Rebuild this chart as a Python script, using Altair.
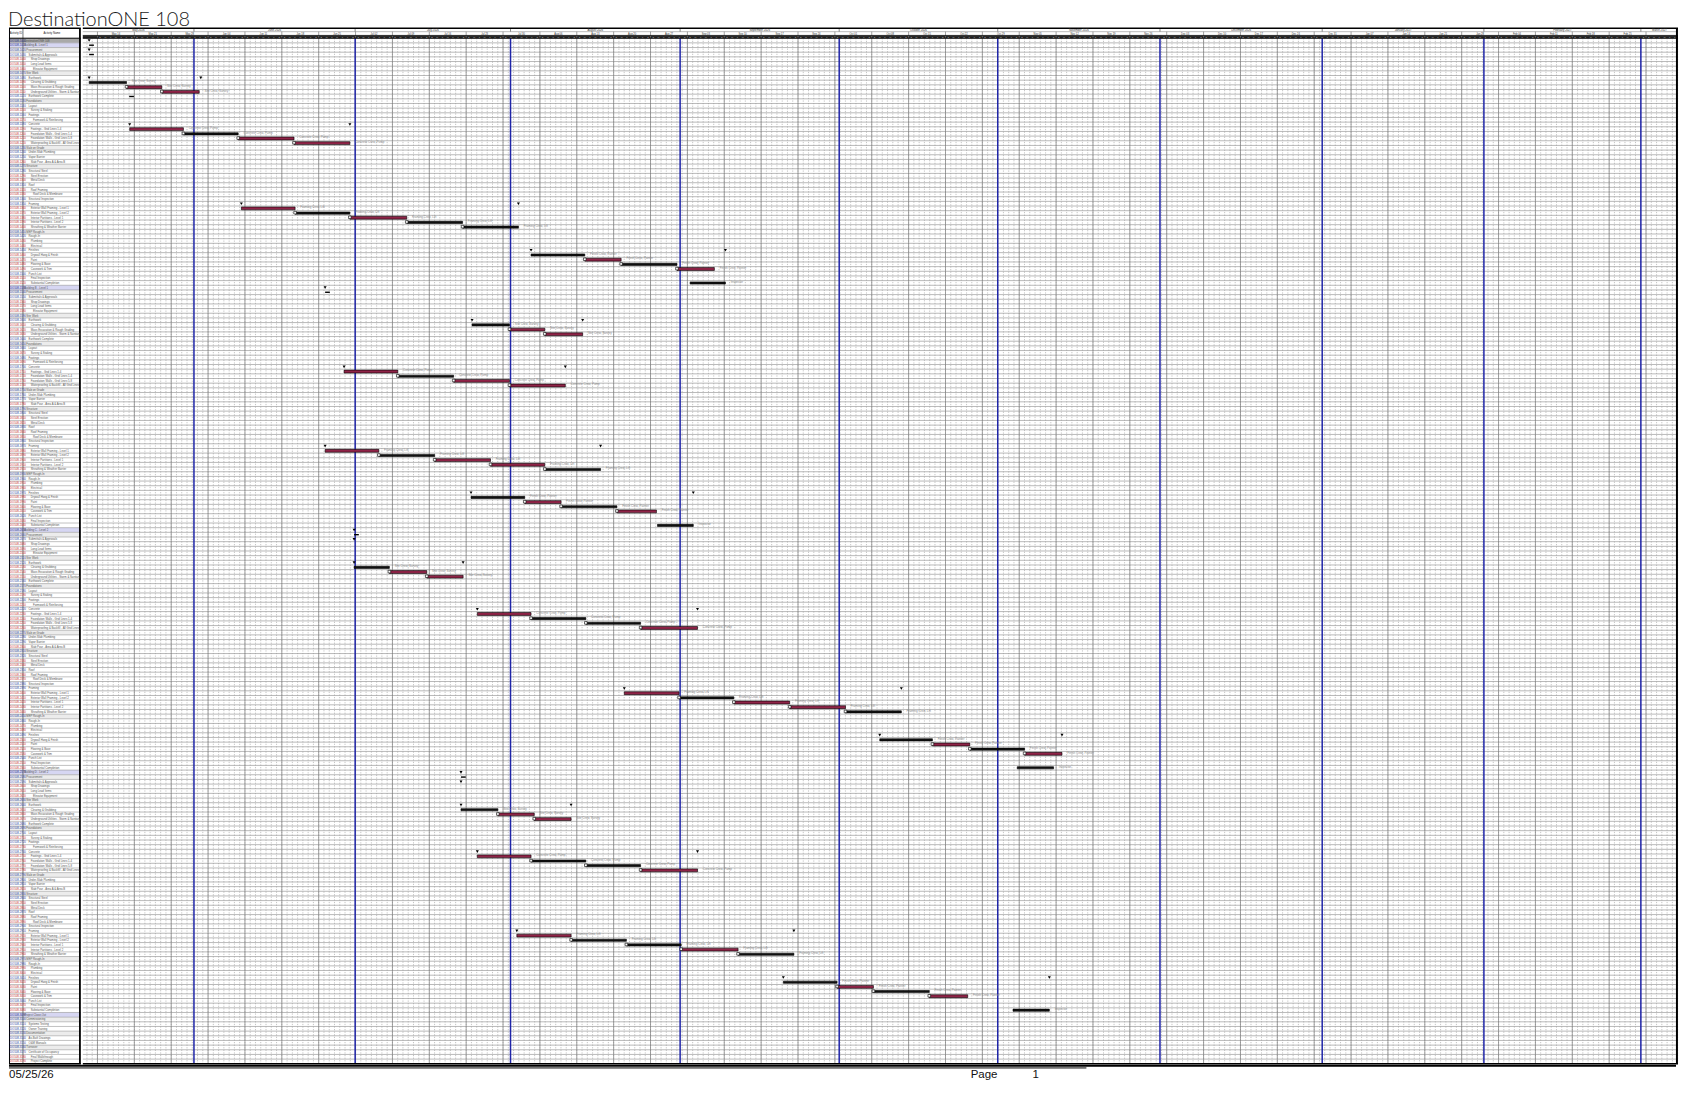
import altair as alt
import pandas as pd

alt.data_transformers.disable_max_rows()

# ---------------- text ----------------
TITLE = "DestinationONE 108"
PRINT_DATE = "05/25/26"
PAGE_WORD = "Page"
PAGE_NUM = "1"
TABLE_HEADERS = ["Activity ID", "Activity Name"]

# ---------------- layout constants ----------------
N_ROWS = 220
N_DAYS = 302.85
HDR_TOP, HDR_T1, HDR_T2 = -2.14, -1.40, -0.60
TABLE_W, COL1_W, GANTT_W, PANEL_H = 72, 14, 1599, 1038
FOOT_W, FOOT_H = 1671, 14

# ---------------- task list ----------------
project_name = "DestinationONE 108"
section_names = ["Building A - Level 1", "Building B - Level 1",
                 "Building C - Level 2", "Building D - Level 2"]
template_levels = [0, 1, 2, 3, 3, 4, 1, 2, 3, 3, 3, 2, 1, 2, 3, 2, 4, 2, 3, 3, 3, 3,
                   1, 2, 2, 3, 1, 2, 3, 3, 2, 3, 4, 2, 2, 3, 3, 3, 3, 3, 1, 2, 3, 3,
                   2, 3, 3, 3, 3, 2, 3, 3]
template_names = [
    None, "Procurement", "Submittals & Approvals", "Shop Drawings", "Long Lead Items",
    "Elevator Equipment", "Site Work", "Earthwork", "Clearing & Grubbing",
    "Mass Excavation & Rough Grading", "Underground Utilities - Storm & Sanitary",
    "Earthwork Complete", "Foundations", "Layout", "Survey & Staking", "Footings",
    "Formwork & Reinforcing", "Concrete", "Footings - Grid Lines 1-4",
    "Foundation Walls - Grid Lines 1-4", "Foundation Walls - Grid Lines 5-8",
    "Waterproofing & Backfill - All Grid Lines", "Slab on Grade", "Under-Slab Plumbing",
    "Vapor Barrier", "Slab Pour - Area A & Area B", "Structure", "Structural Steel",
    "Steel Erection", "Metal Deck", "Roof", "Roof Framing", "Roof Deck & Membrane",
    "Structural Inspection", "Framing", "Exterior Wall Framing - Level 1",
    "Exterior Wall Framing - Level 2", "Interior Partitions - Level 1",
    "Interior Partitions - Level 2", "Sheathing & Weather Barrier", "MEP Rough-In",
    "Rough-In", "Plumbing", "Electrical", "Finishes", "Drywall Hang & Finish", "Paint",
    "Flooring & Base", "Casework & Trim", "Punch List", "Final Inspection",
    "Substantial Completion"]
closeout_levels = [0, 1, 2, 2, 1, 2, 2, 1, 2, 3, 3]
closeout_names = ["Project Close-Out", "Commissioning", "Systems Testing", "Owner Training",
                  "Documentation", "As-Built Drawings", "O&M Manuals", "Turnover",
                  "Certificate of Occupancy", "Final Walkthrough", "Project Complete"]

# ---------------- bars (row, start day, end day, kind) ----------------
bar_rows = [9, 10, 11, 19, 20, 21, 22, 36, 37, 38, 39, 40, 46, 47, 48, 49, 52,
            61, 62, 63, 71, 72, 73, 74, 88, 89, 90, 91, 92, 98, 99, 100, 101, 104,
            113, 114, 115, 123, 124, 125, 126, 140, 141, 142, 143, 144, 150, 151, 152, 153, 156,
            165, 166, 167, 175, 176, 177, 178, 192, 193, 194, 195, 196, 202, 203, 204, 205, 208]
bar_start = [1.2, 8.3, 15.0, 8.9, 19.1, 29.5, 40.1, 30.1, 40.3, 50.7, 61.5, 72.1, 85.1, 95.3, 102.2, 112.8, 115.3,
             73.9, 81.0, 87.7, 49.6, 59.8, 70.4, 81.0, 46.0, 56.2, 66.8, 77.4, 87.7, 73.7, 83.9, 90.8, 101.4, 109.1,
             51.5, 58.2, 65.3, 74.9, 85.1, 95.5, 105.9, 102.8, 113.2, 123.6, 134.2, 144.8, 151.3, 161.3, 168.4, 178.8, 177.4,
             71.8, 78.8, 85.7, 74.9, 85.1, 95.5, 105.9, 82.4, 92.7, 103.2, 113.6, 124.4, 133.0, 143.2, 150.1, 160.7, 176.6]
bar_end = [8.3, 15.0, 22.1, 19.1, 29.5, 40.1, 50.7, 40.3, 50.7, 61.5, 72.1, 82.7, 95.3, 102.2, 112.8, 119.9, 122.0,
           81.0, 87.7, 94.9, 59.8, 70.4, 81.0, 91.6, 56.2, 66.8, 77.4, 87.7, 98.3, 83.9, 90.8, 101.4, 108.9, 115.9,
           58.2, 65.3, 72.2, 85.1, 95.5, 105.9, 116.7, 113.2, 123.6, 134.2, 144.8, 155.4, 161.3, 168.4, 178.8, 185.9, 184.3,
           78.8, 85.7, 92.7, 85.1, 95.5, 105.9, 116.7, 92.7, 103.2, 113.6, 124.4, 135.0, 143.2, 150.1, 160.7, 168.0, 183.5]
bar_kind = ["b", "m", "m", "m", "b", "m", "m", "m", "b", "m", "b", "b", "b", "m", "b", "m", "b",
            "b", "m", "m", "m", "b", "m", "m", "m", "b", "m", "m", "b", "b", "m", "b", "m", "b",
            "b", "m", "m", "m", "b", "b", "m", "m", "b", "m", "m", "b", "b", "m", "b", "m", "b",
            "b", "m", "m", "m", "b", "b", "m", "m", "b", "b", "m", "b", "b", "m", "b", "m", "b"]
crew_names = {8: "Site Crew, Survey", 18: "Concrete Crew, Pump", 35: "Framing Crew, Lift",
              45: "Finish Crew, Painter", 51: "Inspector"}

# milestones (triangles) and small dashes
ms_rows = [0, 2, 53, 105, 107, 157, 159, 8, 8, 18, 18, 35, 35, 45, 45,
           60, 60, 70, 70, 87, 87, 97, 97, 112, 112, 122, 122, 139, 139, 149, 149,
           164, 164, 174, 174, 191, 191, 201, 201]
ms_days = [1.2, 1.2, 46.0, 51.5, 51.5, 71.8, 71.8, 1.2, 22.4, 8.9, 50.7, 30.1, 82.7, 85.1, 122.0,
           73.9, 94.9, 49.6, 91.6, 46.0, 98.3, 73.7, 115.9, 51.5, 72.2, 74.9, 116.7, 102.8, 155.4, 151.3, 185.9,
           71.8, 92.7, 74.9, 116.7, 82.4, 135.0, 133.0, 183.5]
dash_rows = [1, 3, 12, 54, 106, 158]
dash_days = [1.2, 1.2, 8.8, 46.0, 51.5, 71.8]

# ---------------- time scale ----------------
month_line_days = [21.1, 51.7, 81.2, 113.4, 143.6, 173.7, 204.5, 235.3, 266.0, 295.8]
month_labels = ["May 2026", "June 2026", "July 2026", "August 2026", "September 2026",
                "October 2026", "November 2026", "December 2026", "January 2027",
                "February 2027", "March 2027"]
FIRST_WEEK = 2.78
BASE_DATE = pd.Timestamp("2026-05-11")
DAY_LETTERS = "SMTWTFS"

# =============== build tables ===============
rows = [dict(row=0, level=0, name=project_name, kind="project")]
r = 1
for s, sname in enumerate(section_names):
    for i, (lv, nm) in enumerate(zip(template_levels, template_names)):
        rows.append(dict(row=r, level=lv, name=sname if i == 0 else nm,
                         kind="section" if i == 0 else ("summary" if lv == 1 else ("group" if lv == 2 else "task"))))
        r += 1
for i, (lv, nm) in enumerate(zip(closeout_levels, closeout_names)):
    rows.append(dict(row=r, level=lv, name=nm,
                     kind="section" if i == 0 else ("summary" if lv == 1 else ("group" if lv == 2 else "task"))))
    r += 1
rows = pd.DataFrame(rows)
bg_col = {"project": "#a9a9a9", "section": "#d6d6f2", "summary": "#ececec", "group": "#ffffff", "task": "#ffffff"}
id_col = {"project": "#1d2a8a", "section": "#1d2a8a", "summary": "#2b3fa0", "group": "#2b3fa0", "task": "#c62828"}
rows["bg"] = rows["kind"].map(bg_col)
rows["idc"] = rows["kind"].map(id_col)
rows["y0"] = rows["row"]
rows["y1"] = rows["row"] + 1
rows["ym"] = rows["row"] + 0.5
rows["x0"] = 0
rows["x1"] = TABLE_W
rows["idx"] = 1.0
rows["nx"] = COL1_W + 1.2 + rows["level"] * 2.2
rows["aid"] = ["DO108-" + str(1000 + 10 * k) for k in rows["row"]]

# ---------------- shared encodings ----------------
xs = alt.Scale(domain=[0, N_DAYS], nice=False, zero=False)
ys = alt.Scale(domain=[HDR_TOP, N_ROWS], reverse=True, nice=False, zero=False)
xt = alt.Scale(domain=[0, TABLE_W], nice=False, zero=False)


def X(f, sc=xs):
    return alt.X(f, type="quantitative", scale=sc, axis=None)


def Y(f):
    return alt.Y(f, type="quantitative", scale=ys, axis=None)


FONT = "Liberation Sans"

# =============== TABLE PANEL ===============
t_bg = alt.Chart(rows).mark_rect().encode(
    x=X("x0", xt), x2="x1", y=Y("y0"), y2="y1", color=alt.Color("bg:N", scale=None))
t_lines = alt.Chart(pd.DataFrame({"y": list(range(N_ROWS + 1)), "x0": 0, "x1": TABLE_W})).mark_rule(
    color="#8f8f8f", strokeWidth=0.55).encode(x=X("x0", xt), x2="x1", y=Y("y"))
t_hdr_bg = alt.Chart(pd.DataFrame({"x0": [0], "x1": [TABLE_W], "y0": [HDR_TOP], "y1": [0]})).mark_rect(
    color="white").encode(x=X("x0", xt), x2="x1", y=Y("y0"), y2="y1")
t_vlines = alt.Chart(pd.DataFrame({"x": [0.5, COL1_W, TABLE_W - 0.9], "y0": HDR_TOP, "y1": N_ROWS,
                                   "w": [1.0, 0.8, 1.8], "c": ["#000", "#555", "#000"]})).mark_rule().encode(
    x=X("x", xt), y=Y("y0"), y2="y1", color=alt.Color("c:N", scale=None),
    strokeWidth=alt.StrokeWidth("w:Q", scale=None))
t_hlines = alt.Chart(pd.DataFrame({"y": [HDR_TOP, 0, N_ROWS], "x0": 0, "x1": TABLE_W,
                                   "w": [1.5, 1.0, 1.5]})).mark_rule(color="#000").encode(
    x=X("x0", xt), x2="x1", y=Y("y"), strokeWidth=alt.StrokeWidth("w:Q", scale=None))
t_hdr_txt = alt.Chart(pd.DataFrame({"x": [COL1_W / 2, (COL1_W + TABLE_W) / 2],
                                    "y": [HDR_TOP / 2] * 2, "t": TABLE_HEADERS})).mark_text(
    fontSize=2.8, font=FONT, color="#222").encode(x=X("x", xt), y=Y("y"), text="t:N")
t_ids = alt.Chart(rows).mark_text(fontSize=2.8, font=FONT, align="left", baseline="middle", clip=True).encode(
    x=X("idx", xt), y=Y("ym"), text="aid:N", color=alt.Color("idc:N", scale=None))
t_names = alt.Chart(rows).mark_text(fontSize=2.8, font=FONT, align="left", baseline="middle",
                                    color="#555", clip=True).encode(
    x=X("nx", xt), y=Y("ym"), text="name:N")

table = alt.layer(t_bg, t_lines, t_hdr_bg, t_vlines, t_hlines, t_hdr_txt, t_ids, t_names).properties(
    width=TABLE_W, height=PANEL_H)

# =============== GANTT PANEL ===============
weeks = [FIRST_WEEK + 7 * k for k in range(44) if FIRST_WEEK + 7 * k <= N_DAYS]
days = [FIRST_WEEK + k for k in range(-2, 302) if 0 < FIRST_WEEK + k < N_DAYS]
day_cells = pd.DataFrame({"d": [FIRST_WEEK + k + 0.5 for k in range(0, 301) if FIRST_WEEK + k + 1 <= N_DAYS]})
day_cells["t"] = [DAY_LETTERS[k % 7] for k in range(len(day_cells))]
day_cells["y"] = (HDR_T2 + 0) / 2

month_edges = [0] + month_line_days + [N_DAYS]
months = pd.DataFrame({"m": [(a + b) / 2 for a, b in zip(month_edges[:-1], month_edges[1:])],
                       "t": month_labels, "y": (HDR_TOP + HDR_T1) / 2})
week_lab = pd.DataFrame({"w": [w + 3.5 for w in weeks if w + 7 <= N_DAYS]})
week_lab["t"] = [(BASE_DATE + pd.Timedelta(days=round(w - 3.5))).strftime("%b %d") for w in week_lab["w"]]
week_lab["y"] = (HDR_T1 + HDR_T2) / 2

g_hdr_bg = alt.Chart(pd.DataFrame({"x0": [0, 0], "x1": [N_DAYS, N_DAYS], "y0": [HDR_TOP, HDR_T2],
                                   "y1": [HDR_T2, 0], "c": ["#ffffff", "#2a2a2a"]})).mark_rect().encode(
    x=X("x0"), x2="x1", y=Y("y0"), y2="y1", color=alt.Color("c:N", scale=None))
g_rows = alt.Chart(pd.DataFrame({"y": list(range(1, N_ROWS)), "x0": 0, "x1": N_DAYS})).mark_rule(
    color="#8c8c8c", strokeWidth=0.6).encode(x=X("x0"), x2="x1", y=Y("y"))
g_days = alt.Chart(pd.DataFrame({"x": days, "y0": 0, "y1": N_ROWS})).mark_rule(
    color="#9c9c9c", strokeWidth=0.6, strokeDash=[1.2, 1.4]).encode(x=X("x"), y=Y("y0"), y2="y1")
g_weeks = alt.Chart(pd.DataFrame({"x": weeks, "y0": HDR_T1, "y1": N_ROWS})).mark_rule(
    color="#7a7a7a", strokeWidth=0.7).encode(x=X("x"), y=Y("y0"), y2="y1")
g_msep = alt.Chart(pd.DataFrame({"x": month_line_days, "y0": HDR_TOP, "y1": HDR_T1})).mark_rule(
    color="#555", strokeWidth=0.7).encode(x=X("x"), y=Y("y0"), y2="y1")
g_hl = alt.Chart(pd.DataFrame({"y": [HDR_TOP, HDR_T1, HDR_T2, 0, N_ROWS], "x0": 0, "x1": N_DAYS,
                               "w": [1.6, 0.5, 0.7, 1.0, 1.5],
                               "c": ["#000", "#777", "#000", "#000", "#000"]})).mark_rule().encode(
    x=X("x0"), x2="x1", y=Y("y"), strokeWidth=alt.StrokeWidth("w:Q", scale=None),
    color=alt.Color("c:N", scale=None))
g_right = alt.Chart(pd.DataFrame({"x": [N_DAYS - 0.2], "y0": [HDR_TOP], "y1": [N_ROWS]})).mark_rule(
    color="#000", strokeWidth=2).encode(x=X("x"), y=Y("y0"), y2="y1")
g_blue = alt.Chart(pd.DataFrame({"x": month_line_days, "y0": 0, "y1": N_ROWS})).mark_rule(
    color="#1f25a8", strokeWidth=1.5).encode(x=X("x"), y=Y("y0"), y2="y1")
g_mtxt = alt.Chart(months).mark_text(fontSize=2.8, font=FONT, color="#333").encode(
    x=X("m"), y=Y("y"), text="t:N")
g_wtxt = alt.Chart(week_lab).mark_text(fontSize=2.6, font=FONT, color="#333").encode(
    x=X("w"), y=Y("y"), text="t:N")
g_dtxt = alt.Chart(day_cells).mark_text(fontSize=2.2, font=FONT, color="#cfcfcf").encode(
    x=X("d"), y=Y("y"), text="t:N")

bars = pd.DataFrame({"row": bar_rows, "s": bar_start, "e": bar_end, "k": bar_kind})
bars["y0"] = bars["row"] + bars["k"].map({"m": 0.2, "b": 0.28})
bars["y1"] = bars["row"] + bars["k"].map({"m": 0.82, "b": 0.74})
bars["fill"] = bars["k"].map({"m": "#8f2347", "b": "#111111"})
prev = [None] + bar_rows[:-1]
bars["linked"] = [p is not None and p == rr - 1 for p, rr in zip(prev, bar_rows)]
bars["cy"] = bars["row"] + 0.42
bars["lx"] = bars["e"] + 1.0
bars["ly"] = bars["row"] + 0.25
bars["lab"] = [crew_names.get(max(k for k in crew_names if k <= (rr - 1) % 52), "") for rr in bar_rows]

g_bars = alt.Chart(bars).mark_rect(stroke="#000", strokeWidth=0.6).encode(
    x=X("s"), x2="e", y=Y("y0"), y2="y1", color=alt.Color("fill:N", scale=None))
g_links = alt.Chart(bars[bars["linked"]]).mark_point(
    shape="square", size=7, filled=True, color="white", stroke="#000", strokeWidth=0.6, opacity=1).encode(
    x=X("s"), y=Y("cy"))
g_labels = alt.Chart(bars).mark_text(fontSize=3, font=FONT, align="left", baseline="middle",
                                     color="#8a8a8a").encode(x=X("lx"), y=Y("ly"), text="lab:N")

ms = pd.DataFrame({"row": ms_rows, "d": ms_days})
ms["y"] = ms["row"] + 0.5
g_ms = alt.Chart(ms).mark_point(shape="triangle-down", size=9, filled=True, color="#000", opacity=1).encode(
    x=X("d"), y=Y("y"))
ds = pd.DataFrame({"row": dash_rows, "d": dash_days})
ds["y"] = ds["row"] + 0.5
ds["d2"] = ds["d"] + 0.9
g_dash = alt.Chart(ds).mark_rule(color="#000", strokeWidth=1.4).encode(x=X("d"), x2="d2", y=Y("y"))

gantt = alt.layer(g_hdr_bg, g_rows, g_days, g_weeks, g_msep, g_blue, g_hl, g_right,
                  g_mtxt, g_wtxt, g_dtxt, g_bars, g_links, g_labels, g_ms, g_dash).properties(
    width=GANTT_W, height=PANEL_H)

# =============== FOOTER ===============
fx = alt.Scale(domain=[0, FOOT_W], nice=False, zero=False)
fy = alt.Scale(domain=[0, FOOT_H], reverse=True, nice=False, zero=False)
f_rules = alt.Chart(pd.DataFrame({"x0": [0, 0], "x1": [FOOT_W, 1080], "y": [1.0, 3.2], "w": [2.0, 1.0]})).mark_rule(
    color="#000").encode(x=alt.X("x0:Q", scale=fx, axis=None), x2="x1",
                         y=alt.Y("y:Q", scale=fy, axis=None), strokeWidth=alt.StrokeWidth("w:Q", scale=None))
f_txt = alt.Chart(pd.DataFrame({"x": [0, 964, 1026], "y": [10.5, 10.5, 10.5],
                                "t": [PRINT_DATE, PAGE_WORD, PAGE_NUM]})).mark_text(
    fontSize=11.5, font=FONT, align="left", baseline="middle", color="#111").encode(
    x=alt.X("x:Q", scale=fx, axis=None), y=alt.Y("y:Q", scale=fy, axis=None), text="t:N")
footer = alt.layer(f_rules, f_txt).properties(width=FOOT_W, height=FOOT_H)

chart = alt.vconcat(
    alt.hconcat(table, gantt, spacing=0),
    footer, spacing=0,
).properties(
    padding=0,
    title=alt.TitleParams(TITLE, anchor="start", fontSize=20, font="Lato", fontWeight=300,
                          color="#1a1a1a", offset=-2.3),
).configure_view(stroke=None)

chart.save("out.html", embed_options={"renderer": "svg", "actions": False})
